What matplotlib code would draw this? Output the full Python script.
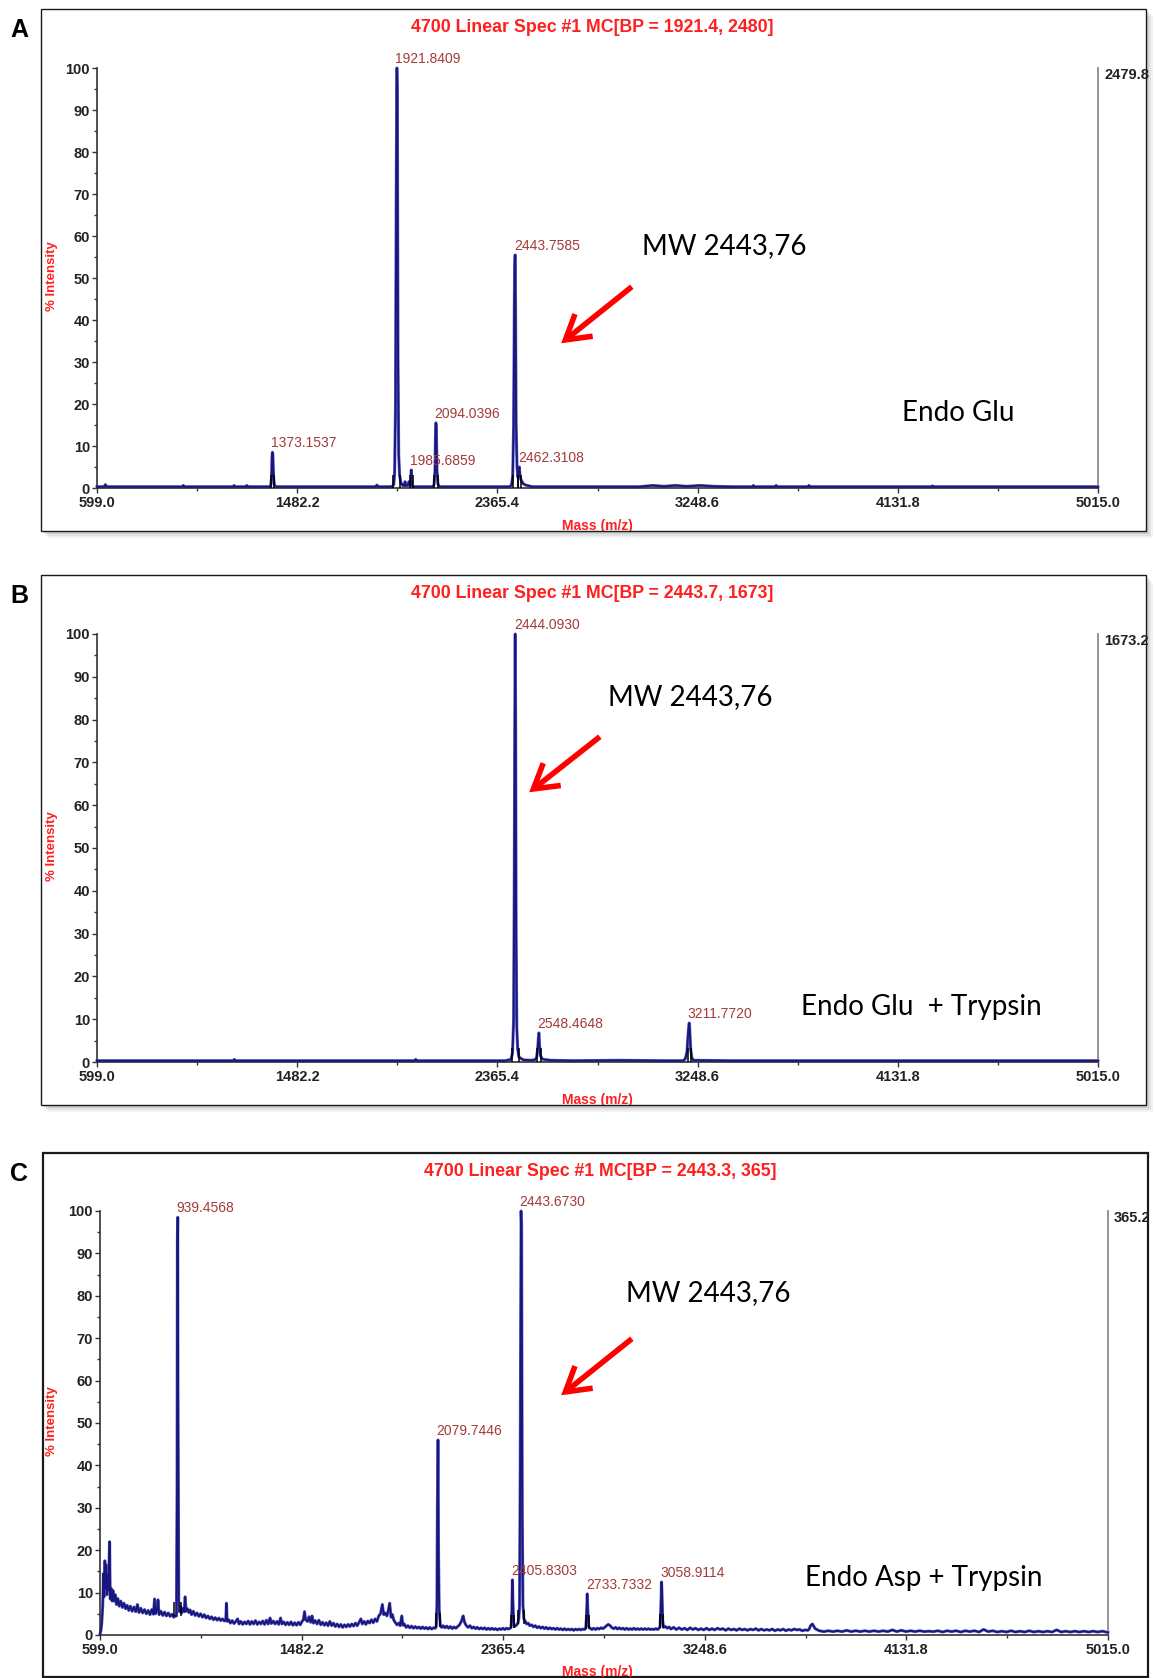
import matplotlib
matplotlib.use('Agg')
import matplotlib.pyplot as plt
from matplotlib.patches import Rectangle, FancyArrowPatch

# ---------------- data ----------------
X_TICKS = [599.0, 1482.2, 2365.4, 3248.6, 4131.8, 5015.0]

# A : Endo Glu
A_MZ = [599, 630, 636, 642, 700, 975, 980, 985, 1200, 1204, 1208, 1256, 1260, 1264,
        1362, 1366, 1369, 1371, 1373.15, 1375, 1378, 1382, 1390, 1600, 1828, 1834, 1840,
        1900, 1908, 1912, 1916, 1919, 1921.84, 1924, 1927, 1930, 1934, 1940, 1948,
        1954, 1958, 1962, 1970, 1975, 1980, 1983, 1985.69, 1988, 1992, 2000,
        2080, 2086, 2090, 2092, 2094.04, 2096, 2099, 2103, 2110,
        2420, 2428, 2433, 2437, 2440, 2441.5, 2443.76, 2445.5, 2448, 2452, 2456, 2459,
        2462.31, 2465, 2469, 2474, 2480, 2490, 2505, 2520, 2700, 2990, 3050, 3100,
        3150, 3200, 3260, 3320, 3400, 3490, 3495, 3500, 3590, 3595, 3600, 3735, 3740,
        3745, 4280, 4285, 4290, 4600, 5015]
A_INT = [0.3, 0.3, 0.8, 0.3, 0.3, 0.3, 0.6, 0.3, 0.3, 0.6, 0.3, 0.3, 0.6, 0.3,
         0.3, 0.8, 2.5, 7.5, 8.5, 7.8, 2.5, 0.6, 0.3, 0.3, 0.3, 0.7, 0.3,
         0.3, 0.8, 3.5, 20, 70, 100, 94, 30, 8, 3, 1.2, 0.6,
         0.5, 1.5, 0.5, 0.6, 1.5, 0.6, 0.6, 4.3, 0.8, 0.3, 0.3,
         0.3, 0.8, 4, 12, 15.5, 14.2, 4, 1, 0.3,
         0.3, 0.8, 3, 15, 43, 52, 55.5, 43, 15, 5, 2.5, 3.5,
         5.0, 3, 2, 1.5, 1, 0.7, 0.5, 0.3, 0.3, 0.3, 0.6, 0.4,
         0.6, 0.4, 0.6, 0.4, 0.3, 0.3, 0.6, 0.3, 0.3, 0.6, 0.3, 0.3, 0.6,
         0.3, 0.3, 0.5, 0.3, 0.3, 0.3]
A_PEAK_MZ = [1373.1537, 1921.8409, 1985.6859, 2094.0396, 2443.7585, 2462.3108]
A_PEAK_INT = [8.5, 100, 4.3, 15.5, 55.5, 5.0]
A_PEAK_BASE = [0, 0, 0, 0, 0, 0]

# B : Endo Glu + Trypsin
B_MZ = [599, 700, 900, 1200, 1205, 1210, 1500, 1800, 2000, 2005, 2010, 2200, 2400,
        2425, 2432, 2437, 2440, 2442, 2444.09, 2446, 2448, 2451, 2455, 2460, 2470,
        2480, 2510, 2530, 2538, 2543, 2546, 2548.46, 2551, 2555, 2562, 2570, 2600,
        2700, 2900, 3100, 3185, 3195, 3202, 3206, 3209, 3211.77, 3214, 3218, 3223,
        3230, 3400, 3700, 4000, 4400, 5015]
B_INT = [0.3, 0.3, 0.3, 0.3, 0.6, 0.3, 0.3, 0.3, 0.3, 0.6, 0.3, 0.3, 0.3,
         0.6, 2, 10, 45, 78, 100, 78, 30, 8, 3, 1.2, 0.8,
         0.5, 0.4, 0.5, 1, 3, 5.5, 6.8, 4, 1.5, 0.8, 0.6, 0.4,
         0.3, 0.4, 0.3, 0.3, 0.8, 2.5, 6, 8, 9.1, 7.5, 3, 1,
         0.4, 0.3, 0.3, 0.3, 0.3, 0.3]
B_PEAK_MZ = [2444.0930, 2548.4648, 3211.7720]
B_PEAK_INT = [100, 6.8, 9.1]
B_PEAK_BASE = [0, 0, 0]

# C : Endo Asp + Trypsin
C_MZ = [599, 603, 607, 611, 614, 617, 620, 623, 626, 629, 632, 636, 641, 644, 648,
        652, 656, 661, 666, 671, 677, 683, 690, 697, 704, 711, 718, 725, 732, 740,
        748, 756, 763, 770, 778, 786, 794, 802, 810, 818, 826, 833, 838, 842, 848,
        853, 858, 866, 874, 882, 890, 898, 906, 914, 922, 930, 934, 936.5, 938,
        939.46, 940.5, 942, 944, 947, 952, 957, 963, 968, 972, 976, 982, 988, 994,
        1000, 1008, 1016, 1024, 1032, 1040, 1048, 1056, 1064, 1072, 1080, 1088, 1096,
        1104, 1112, 1120, 1128, 1136, 1144, 1150, 1153, 1156, 1163, 1170, 1178, 1186,
        1194, 1202, 1208, 1216, 1224, 1232, 1240, 1248, 1256, 1264, 1272, 1280, 1288,
        1296, 1304, 1312, 1320, 1328, 1336, 1344, 1350, 1358, 1366, 1374, 1382, 1390,
        1396, 1404, 1412, 1420, 1428, 1436, 1444, 1452, 1460, 1468, 1476, 1484, 1490,
        1495, 1500, 1508, 1515, 1522, 1528, 1534, 1542, 1550, 1558, 1566, 1574, 1582,
        1590, 1598, 1606, 1614, 1622, 1630, 1638, 1646, 1654, 1662, 1670, 1678, 1686,
        1694, 1702, 1710, 1718, 1726, 1734, 1742, 1748, 1756, 1764, 1772, 1780, 1788,
        1796, 1804, 1812, 1820, 1828, 1836, 1842, 1848, 1856, 1862, 1868, 1874, 1880,
        1886, 1892, 1900, 1908, 1914, 1921, 1926, 1932, 1940, 1948, 1956, 1964, 1972,
        1980, 1988, 1996, 2004, 2012, 2020, 2028, 2036, 2044, 2052, 2060, 2068, 2072,
        2075, 2077, 2079.74, 2082, 2085, 2090, 2096, 2102, 2110, 2118, 2126, 2134,
        2142, 2150, 2158, 2166, 2174, 2182, 2190, 2196, 2204, 2212, 2220, 2228, 2236,
        2244, 2252, 2260, 2268, 2276, 2284, 2292, 2300, 2308, 2316, 2324, 2332, 2340,
        2348, 2356, 2364, 2372, 2380, 2388, 2396, 2400, 2403, 2405.83, 2408, 2411,
        2415, 2420, 2425, 2430, 2434, 2437, 2440, 2443.67, 2446, 2449, 2452, 2456,
        2462, 2468, 2475, 2482, 2490, 2498, 2506, 2514, 2522, 2530, 2538, 2546, 2554,
        2562, 2570, 2578, 2586, 2594, 2602, 2610, 2618, 2626, 2634, 2642, 2650, 2658,
        2666, 2674, 2682, 2690, 2698, 2706, 2714, 2722, 2727, 2730, 2733.73, 2736,
        2740, 2746, 2754, 2762, 2770, 2778, 2786, 2794, 2802, 2810, 2818, 2826, 2834,
        2842, 2850, 2858, 2866, 2874, 2882, 2890, 2898, 2906, 2914, 2922, 2930, 2938,
        2946, 2954, 2962, 2970, 2978, 2986, 2994, 3002, 3010, 3018, 3026, 3034, 3042,
        3048, 3052, 3055, 3058.91, 3061, 3064, 3068, 3076, 3084, 3092, 3100, 3112,
        3124, 3136, 3148, 3160, 3172, 3184, 3196, 3208, 3220, 3232, 3244, 3256, 3268,
        3280, 3292, 3304, 3316, 3328, 3340, 3352, 3364, 3376, 3388, 3400, 3412, 3424,
        3436, 3448, 3460, 3472, 3484, 3496, 3508, 3520, 3532, 3544, 3556, 3568, 3580,
        3592, 3604, 3616, 3628, 3640, 3652, 3664, 3676, 3688, 3700, 3706, 3712, 3720,
        3732, 3750, 3770, 3790, 3810, 3830, 3850, 3870, 3890, 3910, 3930, 3950, 3970,
        3990, 4010, 4030, 4050, 4070, 4090, 4110, 4130, 4150, 4170, 4190, 4210, 4230,
        4250, 4270, 4290, 4310, 4330, 4350, 4370, 4390, 4410, 4430, 4450, 4470, 4490,
        4510, 4530, 4550, 4570, 4590, 4610, 4630, 4650, 4670, 4690, 4710, 4730, 4750,
        4770, 4790, 4810, 4830, 4850, 4870, 4890, 4910, 4930, 4950, 4970, 4990, 5015]
C_INT = [0.2, 1.0, 3.0, 7, 14.5, 9, 17.5, 11, 16.5, 9.5, 14, 10.5, 22, 8.5, 11,
         8, 10.5, 8, 9.5, 7.2, 8.6, 6.8, 8, 6.5, 7.5, 6.2, 7, 5.8, 6.8, 5.6,
         6.6, 5.5, 7.2, 5.3, 6.3, 5.2, 6, 5, 5.8, 4.8, 6, 4.9, 8.5, 5, 5.8,
         8.3, 4.8, 5.6, 4.6, 5.4, 4.5, 5.2, 4.4, 4.9, 4.2, 4.6, 4.5, 35, 93,
         98.5, 61, 35, 8, 5.5, 6.8, 5.2, 6.3, 5.5, 9, 5.6, 6.2, 5.3, 5.9,
         4.8, 5.6, 4.6, 5.2, 4.4, 5, 4.2, 4.8, 4, 4.5, 3.8, 4.3, 3.6,
         4.1, 3.5, 4, 3.4, 3.8, 3.3, 3.6, 7.5, 3.2, 3.6, 2.8, 3.4, 2.7,
         3.2, 3.8, 2.6, 3.2, 2.5, 3.1, 2.6, 3.3, 2.5, 3.2, 2.6, 3.4, 2.5,
         3.1, 2.6, 3.3, 2.5, 3.5, 2.6, 4, 2.7, 3.3, 2.6, 3.2, 2.5, 4,
         2.6, 3.1, 2.4, 3, 2.4, 3.1, 2.3, 2.9, 2.3, 3, 2.4, 3.2, 3.6,
         5.5, 3.6, 3.2, 4.3, 3, 4.5, 2.8, 3.4, 2.6, 3.5, 2.4, 3, 2.3,
         2.9, 2.2, 3.2, 2.2, 2.8, 2, 2.6, 1.9, 2.5, 1.8, 2.4, 1.9, 2.5,
         2, 2.6, 2.1, 2.8, 2.2, 3, 3.8, 2.6, 3.2, 2.5, 3.3, 2.8, 3.6,
         2.9, 3.8, 3.2, 4.5, 5, 7.2, 4.8, 5.2, 4.5, 5.8, 7.5, 4.2, 4.8,
         3.5, 3, 2.4, 2.8, 2.2, 4.5, 2.3, 2.6, 1.8, 2.2, 1.7, 2.1, 1.6,
         2, 1.6, 1.9, 1.5, 1.9, 1.5, 1.8, 1.4, 1.8, 1.4, 1.7, 1.6, 2,
         7, 30, 46, 20, 6, 2.2, 1.8, 2.2, 1.7, 2.1, 1.6, 2,
         1.5, 1.9, 1.6, 2, 2.4, 3.2, 4.5, 3, 2.2, 1.8, 2.2, 1.6, 1.9,
         1.5, 1.8, 1.4, 1.7, 1.4, 1.7, 1.3, 1.6, 1.3, 1.6, 1.3, 1.5, 1.2,
         1.5, 1.3, 1.6, 1.3, 1.6, 1.4, 1.6, 1.8, 5, 13, 8, 3,
         2, 2.2, 2.4, 2.8, 4, 7, 40, 100, 97, 28, 7, 3.8,
         3.2, 2.6, 2.8, 2.2, 2.4, 1.9, 2.2, 1.7, 2, 1.6, 1.9, 1.5, 1.8,
         1.4, 1.7, 1.4, 1.6, 1.3, 1.6, 1.3, 1.5, 1.2, 1.5, 1.2, 1.4, 1.2,
         1.4, 1.1, 1.4, 1.2, 1.4, 1.2, 1.4, 1.3, 1.6, 4, 9.7, 6,
         2, 1.6, 1.3, 1.6, 1.3, 1.6, 1.4, 1.7, 1.5, 1.8, 2.2, 2.5, 2.2,
         1.7, 1.5, 1.8, 1.4, 1.7, 1.4, 1.6, 1.3, 1.6, 1.3, 1.5, 1.3, 1.6,
         1.3, 1.5, 1.3, 1.5, 1.3, 1.5, 1.3, 1.5, 1.3, 1.4, 1.3, 1.5, 1.3,
         1.6, 1.8, 4.5, 12.5, 10, 3.5, 1.8, 2, 1.6, 1.9, 1.4, 1.8,
         1.3, 1.7, 1.3, 1.6, 1.2, 1.7, 1.3, 1.6, 1.2, 1.5, 1.2, 1.6, 1.2,
         1.5, 1.2, 1.6, 1.3, 1.5, 1.1, 1.5, 1.2, 1.4, 1.1, 1.5, 1.2, 1.4,
         1.1, 1.4, 1.2, 1.5, 1.1, 1.4, 1.1, 1.3, 1.1, 1.4, 1.0, 1.3, 1.1,
         1.4, 1.0, 1.3, 1.1, 1.4, 1.2, 1.3, 1.0, 1.2, 1.1, 1.4, 2.2, 2.6,
         1.5, 1.0, 0.8, 1.0, 0.8, 1.0, 0.8, 1.1, 0.8, 1.0, 0.8, 1.0, 0.8,
         1.0, 0.8, 1.0, 0.8, 1.2, 0.8, 1.1, 0.8, 1.0, 0.8, 1.0, 0.8, 0.9,
         0.8, 1.0, 0.7, 1.0, 0.8, 1.0, 0.7, 1.0, 0.8, 1.0, 0.7, 1.3, 0.8,
         1.0, 0.7, 0.9, 0.7, 1.0, 0.7, 0.9, 0.7, 1.0, 0.7, 0.9, 0.7, 0.9,
         0.7, 1.2, 0.7, 0.9, 0.7, 0.9, 0.7, 0.9, 0.7, 0.9, 0.7, 0.9, 0.6]
C_PEAK_MZ = [939.4568, 2079.7446, 2405.8303, 2443.6730, 2733.7332, 3058.9114]
C_PEAK_INT = [98.5, 46, 13, 100, 9.7, 12.5]
C_PEAK_BASE = [4.5, 2.0, 1.6, 2.6, 1.4, 1.7]

# ---------------- style ----------------
W, H = 1155, 1678
SANS = 'Liberation Sans'
CALIBRI = 'Lato'
RED = '#ff1f1f'
LABEL_RED = '#a33a3a'
NAVY = '#17177c'
LIGHT = '#6464c8'

fig = plt.figure(figsize=(W / 100, H / 100), dpi=100)


def fbox(x0, y0, x1, y1):
    # pixel box, origin top-left -> figure fraction
    return [x0 / W, 1 - y1 / H, (x1 - x0) / W, (y1 - y0) / H]


def fpt(x, y):
    return (x / W, 1 - y / H)


def draw_panel(letter, title, right_txt, mz, inten, pk_mz, pk_int, pk_base,
               box, axbox, title_x, shadow=True, box_lw=1.0):
    x0, y0, x1, y1 = box
    if shadow:
        for d, a in [(7, 0.08), (5, 0.12), (3, 0.18)]:
            fig.add_artist(Rectangle(fpt(x0 + d, y1 + d), (x1 - x0) / W, (y1 - y0) / H,
                                     transform=fig.transFigure, facecolor='#707070',
                                     alpha=a, edgecolor='none', zorder=-3))
    frame = Rectangle(fpt(x0, y1), (x1 - x0) / W, (y1 - y0) / H,
                      transform=fig.transFigure, facecolor='white',
                      edgecolor='#1a1a1a', lw=box_lw, zorder=-2)
    fig.add_artist(frame)

    ax = fig.add_axes(fbox(*axbox))
    ax.plot(mz, inten, color=LIGHT, lw=2.2, clip_on=False, zorder=2)
    ax.plot(mz, inten, color=NAVY, lw=1.4, clip_on=False, zorder=3)
    for m, h, b in zip(pk_mz, pk_int, pk_base):
        hw = 7 + 0.08 * h
        ax.vlines([m - hw, m + hw], b, b + 3.2, color='black', lw=1.1, zorder=4)
        ax.annotate(f'{m:.4f}', (m, h), xytext=(-1, 1.5), textcoords='offset points',
                    ha='left', va='bottom', fontsize=10, family=SANS,
                    color=LABEL_RED, annotation_clip=False)

    ax.set_xlim(X_TICKS[0], X_TICKS[-1])
    ax.set_ylim(0, 100)
    ax.set_xticks(X_TICKS)
    ax.set_xticklabels([f'{v:.1f}' for v in X_TICKS], fontsize=10.5,
                       fontweight='bold', family=SANS, color='#222222')
    ax.set_xticks([(a + b) / 2 for a, b in zip(X_TICKS[:-1], X_TICKS[1:])], minor=True)
    ax.set_yticks(range(0, 101, 10))
    ax.set_yticklabels([str(v) for v in range(0, 101, 10)], fontsize=10.5,
                       fontweight='bold', family=SANS, color='#222222')
    ax.set_yticks(range(5, 100, 10), minor=True)
    ax.tick_params(which='major', direction='out', length=3.5, width=1.0,
                   color='#333333', pad=1.5)
    ax.tick_params(which='minor', direction='out', length=2.2, width=1.0,
                   color='#333333')
    ax.tick_params(axis='x', pad=2.5)
    ax.spines['top'].set_visible(False)
    for s in ('left', 'bottom'):
        ax.spines[s].set_color('#333333')
        ax.spines[s].set_linewidth(1.2)
    ax.spines['right'].set_color('#8c8c8c')
    ax.spines['right'].set_linewidth(1.3)

    t = ax.text(1.006, 1.0, right_txt, transform=ax.transAxes, ha='left', va='top',
                fontsize=10.5, fontweight='bold', family=SANS, color='#222222')
    t.set_clip_path(frame)

    # texts around the plot
    fig.text(*fpt(19, y0 + 21), letter, ha='center', va='center', fontsize=18,
             fontweight='bold', family=SANS)
    fig.text(*fpt(title_x, y0 + 18), title, ha='center', va='center', color=RED,
             fontsize=12.8, fontweight='bold', family=SANS)
    ax0, ay0, ax1, ay1 = axbox
    fig.text(*fpt(52, (ay0 + ay1) / 2 - 2), '% Intensity', rotation=90, ha='center',
             va='center', color=RED, fontsize=9.5, fontweight='bold', family=SANS)
    m = fig.text(*fpt(597, y1 - 5), 'Mass (m/z)', ha='center', va='center', color=RED,
                 fontsize=10, fontweight='bold', family=SANS)
    m.set_clip_path(frame)
    return ax


def red_arrow(x0, y0, x1, y1):
    fig.add_artist(FancyArrowPatch(fpt(x0, y0), fpt(x1, y1), transform=fig.transFigure,
                                   arrowstyle='->,head_length=1.0,head_width=0.6',
                                   mutation_scale=17, lw=4.0, color='#ff0000',
                                   capstyle='butt', joinstyle='miter'))


draw_panel('A', '4700 Linear Spec #1 MC[BP = 1921.4, 2480]', '2479.8',
           A_MZ, A_INT, A_PEAK_MZ, A_PEAK_INT, A_PEAK_BASE,
           box=(41, 9, 1146, 531), axbox=(97, 68, 1098, 488), title_x=592)
draw_panel('B', '4700 Linear Spec #1 MC[BP = 2443.7, 1673]', '1673.2',
           B_MZ, B_INT, B_PEAK_MZ, B_PEAK_INT, B_PEAK_BASE,
           box=(41, 575, 1146, 1105), axbox=(97, 634, 1098, 1062), title_x=592)
draw_panel('C', '4700 Linear Spec #1 MC[BP = 2443.3, 365]', '365.2',
           C_MZ, C_INT, C_PEAK_MZ, C_PEAK_INT, C_PEAK_BASE,
           box=(43, 1153, 1148, 1677), axbox=(100, 1211, 1108, 1635), title_x=600,
           shadow=False, box_lw=1.6)

# annotations
for x, y, s in [(642, 246, 'MW 2443,76'), (608, 697, 'MW 2443,76'),
                (626, 1293, 'MW 2443,76'), (902, 413, 'Endo Glu'),
                (801, 1007, 'Endo Glu  + Trypsin'), (805, 1578, 'Endo Asp + Trypsin')]:
    fig.text(*fpt(x, y), s, ha='left', va='center', fontsize=20, family=CALIBRI,
             color='black')

red_arrow(634, 285, 559, 345)
red_arrow(602, 735, 527, 794)
red_arrow(634, 1337, 559, 1397)

fig.savefig('out.png', dpi=100)
